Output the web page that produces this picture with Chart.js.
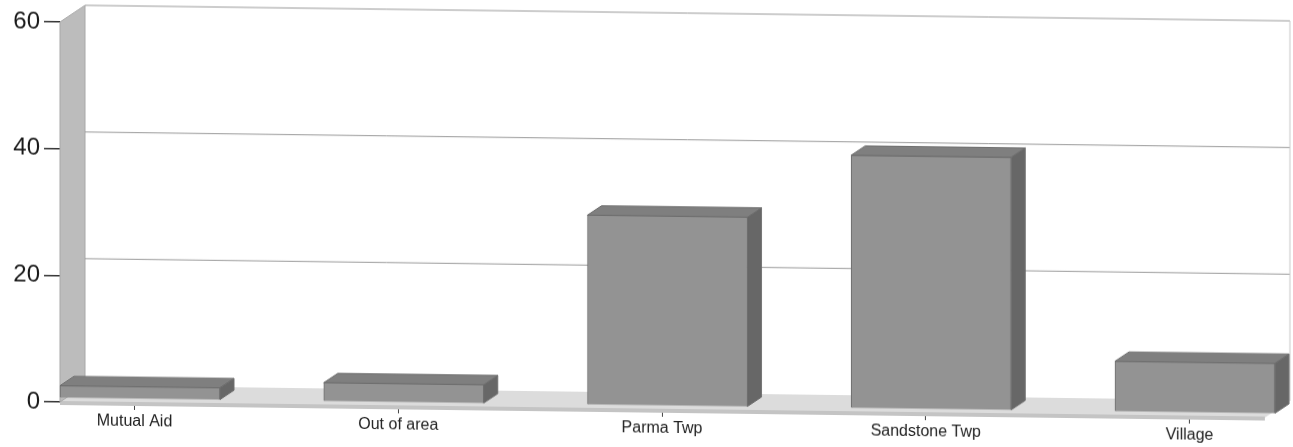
<!DOCTYPE html>
<html>
<head>
<meta charset="utf-8">
<script src="https://cdn.jsdelivr.net/npm/chart.js@4.4.1/dist/chart.umd.min.js"></script>
<style>
  html, body { margin: 0; padding: 0; background: #fff; }
  #wrap { width: 1293px; height: 447px; }
  /* the scan is slightly sheared */
  #chart { display: block; transform: skewY(0.74deg); transform-origin: 60px 402px; }
</style>
</head>
<body>
<div id="wrap"><canvas id="chart" width="1293" height="447"></canvas></div>
<script>
// datos
const categories = ['Mutual Aid', 'Out of area', 'Parma Twp', 'Sandstone Twp', 'Village'];
const counts = [2, 3, 30, 40, 8];
const yTicks = [0, 20, 40, 60];

// profundidad 3D
const WALL = { dx: 25, dy: -17 };
const BAR_SHIFT = { dx: 5.5, dy: -3.7 };
const BAR_DEPTH = { dx: 14, dy: -9.5 };

const box3d = {
    id: 'box3d',
    beforeDatasetsDraw(chart) {
        const { ctx, chartArea: a, scales: { y } } = chart;
        ctx.save();
        // suelo
        ctx.fillStyle = '#dcdcdc';
        ctx.beginPath();
        ctx.moveTo(a.left, a.bottom);
        ctx.lineTo(a.right, a.bottom);
        ctx.lineTo(a.right + WALL.dx, a.bottom + WALL.dy);
        ctx.lineTo(a.left + WALL.dx, a.bottom + WALL.dy);
        ctx.closePath();
        ctx.fill();
        ctx.fillStyle = '#c4c4c4';
        ctx.fillRect(a.left, a.bottom - 1, a.right - a.left, 4);

        // pared izquierda
        ctx.fillStyle = '#bcbcbc';
        ctx.beginPath();
        ctx.moveTo(a.left, a.top);
        ctx.lineTo(a.left + WALL.dx, a.top + WALL.dy);
        ctx.lineTo(a.left + WALL.dx, a.bottom + WALL.dy);
        ctx.lineTo(a.left, a.bottom);
        ctx.closePath();
        ctx.fill();
        ctx.strokeStyle = '#a8a8a8';
        ctx.lineWidth = 1;
        ctx.stroke();

        // líneas de la pared del fondo
        ctx.strokeStyle = '#9a9a9a';
        yTicks.forEach(v => {
            if (v === 0) return;
            const py = y.getPixelForValue(v) + WALL.dy;
            ctx.beginPath();
            ctx.moveTo(a.left + WALL.dx, py);
            ctx.lineTo(a.right + WALL.dx, py);
            ctx.stroke();
        });
        ctx.strokeStyle = '#c8c8c8';
        ctx.beginPath();
        ctx.moveTo(a.right + WALL.dx, a.top + WALL.dy);
        ctx.lineTo(a.right + WALL.dx, a.bottom + WALL.dy);
        ctx.stroke();

        // barras desplazadas hacia el fondo
        ctx.translate(BAR_SHIFT.dx, BAR_SHIFT.dy);
    },
    afterDatasetsDraw(chart) {
        const { ctx } = chart;
        const meta = chart.getDatasetMeta(0);
        meta.data.forEach(bar => {
            const L = bar.x - bar.width / 2, R = bar.x + bar.width / 2;
            const T = bar.y, B = bar.base;
            ctx.fillStyle = '#7f7f7f';
            ctx.strokeStyle = '#6e6e6e';
            ctx.lineWidth = 1;
            ctx.beginPath();
            ctx.moveTo(L, T);
            ctx.lineTo(R, T);
            ctx.lineTo(R + BAR_DEPTH.dx, T + BAR_DEPTH.dy);
            ctx.lineTo(L + BAR_DEPTH.dx, T + BAR_DEPTH.dy);
            ctx.closePath();
            ctx.fill();
            ctx.stroke();
            ctx.fillStyle = '#676767';
            ctx.beginPath();
            ctx.moveTo(R, T);
            ctx.lineTo(R + BAR_DEPTH.dx, T + BAR_DEPTH.dy);
            ctx.lineTo(R + BAR_DEPTH.dx, B + BAR_DEPTH.dy);
            ctx.lineTo(R, B);
            ctx.closePath();
            ctx.fill();
            ctx.stroke();
        });
        ctx.restore();
    }
};

new Chart(document.getElementById('chart'), {
    type: 'bar',
    data: {
        datasets: [{
            data: counts.map((v, i) => ({ x: i, y: v })),
            backgroundColor: '#939393',
            borderColor: '#707070',
            borderWidth: 1,
            barThickness: 160,
            clip: false
        }]
    },
    options: {
        responsive: false,
        animation: false,
        layout: { padding: { top: 22, right: 28, left: 0, bottom: 0 } },
        plugins: { legend: { display: false }, tooltip: { enabled: false } },
        scales: {
            x: {
                type: 'linear',
                offset: false,
                min: -0.2825,
                max: 4.286,
                afterBuildTicks: scale => { scale.ticks = categories.map((_, i) => ({ value: i })); },
                afterFit: scale => { scale.height = 45; },
                ticks: {
                    callback: v => categories[v],
                    color: '#222',
                    font: { family: 'Liberation Sans, Arial', size: 16 },
                    padding: 2,
                    maxRotation: 0,
                    autoSkip: false
                },
                grid: { offset: false, drawOnChartArea: false, drawTicks: true, tickLength: 7, color: '#444' },
                border: { display: false }
            },
            y: {
                min: 0,
                max: 60,
                afterBuildTicks: scale => { scale.ticks = yTicks.map(v => ({ value: v })); },
                afterFit: scale => { scale.width = 60; },
                ticks: {
                    color: '#1a1a1a',
                    font: { family: 'Liberation Sans, Arial', size: 24 },
                    padding: 4
                },
                grid: { drawOnChartArea: false, drawTicks: true, tickLength: 16, color: '#333', lineWidth: 1.5 },
                border: { display: false }
            }
        }
    },
    plugins: [box3d]
});
</script>
</body>
</html>
